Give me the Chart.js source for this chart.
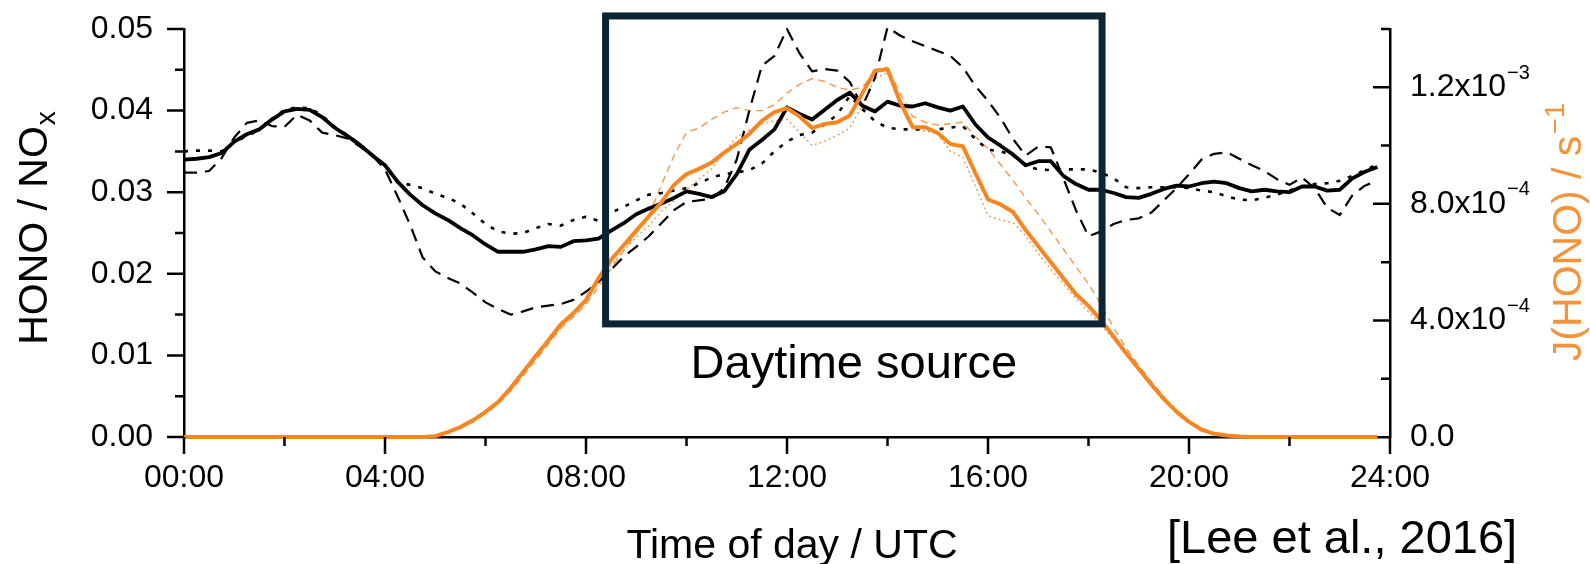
<!DOCTYPE html>
<html><head><meta charset="utf-8">
<script src="https://cdn.jsdelivr.net/npm/chart.js@4.4.1/dist/chart.umd.min.js"></script>
<style>html,body{margin:0;padding:0;background:#fff;}canvas{display:block;}</style>
</head><body>
<canvas id="c" width="1590" height="564"></canvas>
<script>
// ---- data (time of day in hours, 15-min bins) ----
const hours = [
0,0.25,0.5,0.75,1,1.25,1.5,1.75, 2,2.25,2.5,2.75,3,3.25,3.5,3.75,
4,4.25,4.5,4.75,5,5.25,5.5,5.75, 6,6.25,6.5,6.75,7,7.25,7.5,7.75,
8,8.25,8.5,8.75,9,9.25,9.5,9.75, 10,10.25,10.5,10.75,11,11.25,11.5,11.75,
12,12.25,12.5,12.75,13,13.25,13.5,13.75, 14,14.25,14.5,14.75,15,15.25,15.5,15.75,
16,16.25,16.5,16.75,17,17.25,17.5,17.75, 18,18.25,18.5,18.75,19,19.25,19.5,19.75,
20,20.25,20.5,20.75,21,21.25,21.5,21.75, 22,22.25,22.5,22.75,23,23.25,23.5,23.75];

const honoNoxSolid = [
0.0340,0.0341,0.0343,0.0348,0.0362,0.0371,0.0377,0.0389, 0.0399,0.0402,0.0401,0.0392,0.0379,0.0369,0.0358,0.0345,
0.0333,0.0313,0.0297,0.0284,0.0274,0.0266,0.0256,0.0247, 0.0236,0.0227,0.0227,0.0227,0.0230,0.0234,0.0233,0.0240,
0.0241,0.0243,0.0253,0.0262,0.0273,0.0280,0.0286,0.0293, 0.0301,0.0298,0.0294,0.0301,0.0322,0.0352,0.0364,0.0377,
0.0404,0.0396,0.0389,0.0401,0.0413,0.0422,0.0406,0.0399, 0.0411,0.0406,0.0405,0.0409,0.0404,0.0400,0.0405,0.0383,
0.0367,0.0357,0.0346,0.0333,0.0338,0.0338,0.0320,0.0310, 0.0303,0.0303,0.0299,0.0294,0.0293,0.0298,0.0304,0.0308,
0.0307,0.0311,0.0313,0.0311,0.0305,0.0301,0.0303,0.0301, 0.0300,0.0307,0.0307,0.0302,0.0303,0.0317,0.0325,0.0331];

const honoNoxDashed = [
0.0324,0.0324,0.0326,0.0342,0.0367,0.0385,0.0388,0.0381, 0.0380,0.0395,0.0388,0.0373,0.0370,0.0366,0.0356,0.0345,
0.0328,0.0295,0.0260,0.0220,0.0203,0.0195,0.0188,0.0177, 0.0165,0.0157,0.0150,0.0154,0.0159,0.0161,0.0163,0.0168,
0.0178,0.0190,0.0205,0.0221,0.0233,0.0246,0.0262,0.0278, 0.0288,0.0290,0.0292,0.0305,0.0340,0.0400,0.0455,0.0467,
0.0500,0.0470,0.0448,0.0451,0.0449,0.0435,0.0405,0.0440, 0.0502,0.0492,0.0485,0.0479,0.0473,0.0467,0.0453,0.0430,
0.0412,0.0391,0.0365,0.0345,0.0356,0.0355,0.0317,0.0278, 0.0246,0.0252,0.0261,0.0266,0.0268,0.0275,0.0290,0.0305,
0.0322,0.0340,0.0347,0.0349,0.0341,0.0333,0.0326,0.0316, 0.0309,0.0318,0.0305,0.0281,0.0272,0.0296,0.0308,0.0314];

const honoNoxDotted = [
0.0350,0.0351,0.0351,0.0350,0.0361,0.0369,0.0376,0.0390, 0.0401,0.0404,0.0403,0.0394,0.0380,0.0370,0.0359,0.0346,
0.0332,0.0312,0.0309,0.0305,0.0298,0.0293,0.0286,0.0274, 0.0261,0.0252,0.0249,0.0250,0.0256,0.0261,0.0259,0.0266,
0.0270,0.0265,0.0275,0.0282,0.0290,0.0297,0.0299,0.0302, 0.0305,0.0311,0.0318,0.0322,0.0324,0.0327,0.0335,0.0350,
0.0362,0.0370,0.0373,0.0383,0.0395,0.0418,0.0402,0.0387, 0.0379,0.0377,0.0377,0.0377,0.0377,0.0379,0.0381,0.0365,
0.0352,0.0350,0.0345,0.0332,0.0328,0.0327,0.0328,0.0328, 0.0328,0.0324,0.0317,0.0306,0.0305,0.0306,0.0306,0.0306,
0.0305,0.0302,0.0300,0.0295,0.0291,0.0290,0.0293,0.0297, 0.0302,0.0307,0.0310,0.0311,0.0314,0.0320,0.0327,0.0334];

const jHonoSolid = [
0,0,0,0,0,0,0,0, 0,0,0,0,0,0,0,0,
0,0,0,0,0.000003,0.000017,0.000034,0.000057, 0.000086,0.000120,0.000168,0.000223,0.000278,0.000331,0.000387,0.000425,
0.000470,0.000545,0.000608,0.000658,0.000708,0.000757,0.000805,0.000865, 0.000902,0.000920,0.000942,0.000976,0.001006,0.001040,0.001085,0.001115,
0.001128,0.001100,0.001060,0.001074,0.001080,0.001103,0.001180,0.001257, 0.001262,0.001150,0.001063,0.001063,0.001043,0.001005,0.000998,0.000905,
0.000815,0.000798,0.000772,0.000710,0.000655,0.000600,0.000545,0.000490, 0.000450,0.000400,0.000345,0.000287,0.000234,0.000180,0.000130,0.000087,
0.000052,0.000025,0.000011,0.000005,0.000002,0,0,0, 0,0,0,0,0,0,0,0];

const jHonoDashed = [
0,0,0,0,0,0,0,0, 0,0,0,0,0,0,0,0,
0,0,0,0,0.000003,0.000015,0.000030,0.000052, 0.000080,0.000113,0.000158,0.000210,0.000265,0.000318,0.000372,0.000412,
0.000455,0.000515,0.000578,0.000640,0.000700,0.000760,0.000865,0.000965, 0.001045,0.001060,0.001090,0.001115,0.001130,0.001120,0.001120,0.001140,
0.001180,0.001210,0.001230,0.001220,0.001200,0.001190,0.001200,0.001250, 0.001270,0.001180,0.001100,0.001080,0.001070,0.001075,0.001080,0.001030,
0.000990,0.000935,0.000880,0.000820,0.000765,0.000705,0.000645,0.000585, 0.000525,0.000455,0.000375,0.000305,0.000245,0.000190,0.000138,0.000093,
0.000057,0.000030,0.000014,0.000006,0.000002,0,0,0, 0,0,0,0,0,0,0,0];

const jHonoDotted = [
0,0,0,0,0,0,0,0, 0,0,0,0,0,0,0,0,
0,0,0,0,0.000003,0.000016,0.000032,0.000055, 0.000083,0.000117,0.000162,0.000215,0.000270,0.000323,0.000378,0.000420,
0.000462,0.000530,0.000590,0.000640,0.000685,0.000725,0.000775,0.000810, 0.000850,0.000885,0.000920,0.000975,0.001030,0.001055,0.001075,0.001085,
0.001090,0.001045,0.001000,0.001015,0.001035,0.001060,0.001140,0.001230, 0.001250,0.001150,0.001060,0.001050,0.001040,0.000980,0.000960,0.000860,
0.000760,0.000745,0.000735,0.000690,0.000630,0.000575,0.000525,0.000475, 0.000430,0.000385,0.000335,0.000280,0.000228,0.000175,0.000127,0.000085,
0.000050,0.000024,0.000010,0.000004,0.000001,0,0,0, 0,0,0,0,0,0,0,0];

// ---- ticks and texts ----
const xMajorHours = [0,4,8,12,16,20,24];
const xTickLabels = ['00:00','04:00','08:00','12:00','16:00','20:00','24:00'];
const xMinorHours = [2,6,10,14,18,22];
const yMajor = [0,0.01,0.02,0.03,0.04,0.05];
const yTickLabels = ['0.00','0.01','0.02','0.03','0.04','0.05'];
const yMinor = [0.005,0.015,0.025,0.035,0.045];
const y2Major = [0,0.0004,0.0008,0.0012];
const y2TickMantissas = ['0.0','4.0x10','8.0x10','1.2x10'];
const y2TickExponents = ['','\u22124','\u22124','\u22123'];
const y2Minor = [0.0002,0.0006,0.0010,0.0014];
const xTitle = 'Time of day / UTC';
const yTitleMain = 'HONO / NO', yTitleSub = 'x';
const y2TitleMain = 'J(HONO) / s', y2TitleSup = '\u22121';
const citation = '[Lee et al., 2016]';
const boxLabel = 'Daytime source';
const boxHours = [8.39, 18.27];
const boxRatio = [0.01386, 0.0516];
const boxLabelAt = [13.33, 0.00722];

const FONT = "'Liberation Sans', Arial, Helvetica, sans-serif";
const ORANGE = '#F6861F';
const ORANGE_TITLE = '#F4933A';
const NAVY = '#0C2434';

const near = (a, b) => Math.abs(a - b) < 1e-9;
const pts = arr => hours.map((h, i) => ({x: h, y: arr[i]}));
const noPadV = s => { s.paddingTop = 0; s.paddingBottom = 0; };

const decor = {
  id: 'decor',
  afterDatasetsDraw(chart) {
    const {ctx, scales: {x, y}} = chart;
    ctx.save();
    const x0 = x.getPixelForValue(boxHours[0]), x1 = x.getPixelForValue(boxHours[1]);
    const yt = y.getPixelForValue(boxRatio[1]), yb = y.getPixelForValue(boxRatio[0]);
    ctx.strokeStyle = NAVY; ctx.lineWidth = 7;
    ctx.strokeRect(x0, yt, x1 - x0, yb - yt);
    ctx.fillStyle = '#000';
    ctx.font = '47px ' + FONT;
    ctx.textAlign = 'center'; ctx.textBaseline = 'alphabetic';
    ctx.fillText(boxLabel, x.getPixelForValue(boxLabelAt[0]), y.getPixelForValue(boxLabelAt[1]));
    ctx.restore();
  },
  afterDraw(chart) {
    const {ctx, chartArea: a, scales: {x, y, y2}} = chart;
    ctx.save();
    ctx.strokeStyle = '#000'; ctx.lineWidth = 2.5;
    ctx.beginPath();
    xMajorHours.forEach(v => { const p = x.getPixelForValue(v); ctx.moveTo(p, a.bottom); ctx.lineTo(p, a.bottom + 17); });
    xMinorHours.forEach(v => { const p = x.getPixelForValue(v); ctx.moveTo(p, a.bottom); ctx.lineTo(p, a.bottom + 9); });
    yMajor.forEach(v => { const p = y.getPixelForValue(v); ctx.moveTo(a.left - 17, p); ctx.lineTo(a.left, p); });
    yMinor.forEach(v => { const p = y.getPixelForValue(v); ctx.moveTo(a.left - 9, p); ctx.lineTo(a.left, p); });
    y2Major.forEach(v => { if (v === 0) return; const p = y2.getPixelForValue(v); ctx.moveTo(a.right - 17, p); ctx.lineTo(a.right, p); });
    y2Minor.forEach(v => { const p = y2.getPixelForValue(v); ctx.moveTo(a.right - 9, p); ctx.lineTo(a.right, p); });
    ctx.stroke();

    // right axis labels with superscripts
    ctx.fillStyle = '#000';
    ctx.textAlign = 'left'; ctx.textBaseline = 'middle';
    y2Major.forEach((v, i) => {
      const p = y2.getPixelForValue(v);
      ctx.font = '32px ' + FONT;
      ctx.fillText(y2TickMantissas[i], a.right + 20, p);
      if (y2TickExponents[i]) {
        const w = ctx.measureText(y2TickMantissas[i]).width;
        ctx.font = '20px ' + FONT;
        ctx.fillText(y2TickExponents[i], a.right + 21 + w, p - 14);
      }
    });

    // x title
    ctx.textBaseline = 'alphabetic'; ctx.textAlign = 'center';
    ctx.font = '41px ' + FONT;
    ctx.fillText(xTitle, (a.left + a.right) / 2 + 5, 558);

    // citation
    ctx.textAlign = 'left';
    ctx.font = '47px ' + FONT;
    ctx.fillText(citation, 1167, 553);

    // left title
    ctx.save();
    ctx.translate(47, 228); ctx.rotate(-Math.PI / 2);
    ctx.font = '41px ' + FONT; const wm = ctx.measureText(yTitleMain).width;
    ctx.font = '28px ' + FONT; const ws = ctx.measureText(yTitleSub).width;
    let s = -(wm + ws + 1) / 2;
    ctx.font = '41px ' + FONT; ctx.fillText(yTitleMain, s, 0);
    ctx.font = '28px ' + FONT; ctx.fillText(yTitleSub, s + wm + 1, 8);
    ctx.restore();

    // right title
    ctx.save();
    ctx.fillStyle = ORANGE_TITLE;
    ctx.translate(1581, 232); ctx.rotate(-Math.PI / 2);
    ctx.textAlign = 'left';
    ctx.font = '41px ' + FONT; const wm2 = ctx.measureText(y2TitleMain).width;
    ctx.font = '27px ' + FONT; const ws2 = ctx.measureText(y2TitleSup).width;
    s = -(wm2 + ws2 + 2) / 2;
    ctx.font = '41px ' + FONT; ctx.fillText(y2TitleMain, s, 0);
    ctx.font = '27px ' + FONT; ctx.fillText(y2TitleSup, s + wm2 + 2, -17);
    ctx.restore();
    ctx.restore();
  }
};

new Chart(document.getElementById('c'), {
  type: 'line',
  data: {
    datasets: [
      {label: 'J(HONO) solid', data: pts(jHonoSolid), yAxisID: 'y2', borderColor: ORANGE, borderWidth: 4, order: 0, clip: false},
      {label: 'HONO/NOx solid', data: pts(honoNoxSolid), yAxisID: 'y', borderColor: '#000', borderWidth: 3.8, order: 1},
      {label: 'HONO/NOx dashed', data: pts(honoNoxDashed), yAxisID: 'y', borderColor: '#000', borderWidth: 2.2, borderDash: [13, 8], order: 2, clip: false},
      {label: 'HONO/NOx dotted', data: pts(honoNoxDotted), yAxisID: 'y', borderColor: '#000', borderWidth: 2.6, borderDash: [4, 8], order: 3},
      {label: 'J(HONO) dashed', data: pts(jHonoDashed), yAxisID: 'y2', borderColor: 'rgba(240,140,60,0.9)', borderWidth: 1.4, borderDash: [7, 5], order: 4, clip: false},
      {label: 'J(HONO) dotted', data: pts(jHonoDotted), yAxisID: 'y2', borderColor: 'rgba(240,140,60,0.9)', borderWidth: 1.4, borderDash: [2, 3], order: 5, clip: false}
    ]
  },
  options: {
    responsive: false,
    animation: false,
    devicePixelRatio: 1,
    layout: {padding: {top: 29, left: 0, right: 0, bottom: 0}},
    elements: {point: {radius: 0}, line: {tension: 0, borderJoinStyle: 'round'}},
    plugins: {legend: {display: false}, tooltip: {enabled: false}},
    scales: {
      x: {
        type: 'linear', position: 'bottom', min: 0, max: 24,
        grid: {display: false, drawTicks: false},
        border: {display: true, color: '#000', width: 2.5},
        ticks: {stepSize: 4, autoSkip: false, maxRotation: 0, padding: 22, color: '#000',
          font: {size: 32, family: FONT},
          callback: v => { const i = xMajorHours.findIndex(m => near(m, v)); return i >= 0 ? xTickLabels[i] : ''; }},
        afterFit(s) { s.height = 127; s.paddingLeft = 0; s.paddingRight = 0; }
      },
      y: {
        position: 'left', min: 0, max: 0.05,
        grid: {display: false, drawTicks: false},
        border: {display: true, color: '#000', width: 2.5},
        ticks: {stepSize: 0.01, padding: 31, color: '#000', font: {size: 32, family: FONT},
          callback: v => { const i = yMajor.findIndex(m => near(m, v)); return i >= 0 ? yTickLabels[i] : ''; }},
        afterFit(s) { s.width = 184; noPadV(s); }
      },
      y2: {
        position: 'right', min: 0, max: 0.0014,
        grid: {display: false, drawTicks: false},
        border: {display: true, color: '#000', width: 2.5},
        ticks: {display: false, stepSize: 0.0004},
        afterFit(s) { s.width = 200; noPadV(s); }
      }
    }
  },
  plugins: [decor]
});
</script>
</body></html>
